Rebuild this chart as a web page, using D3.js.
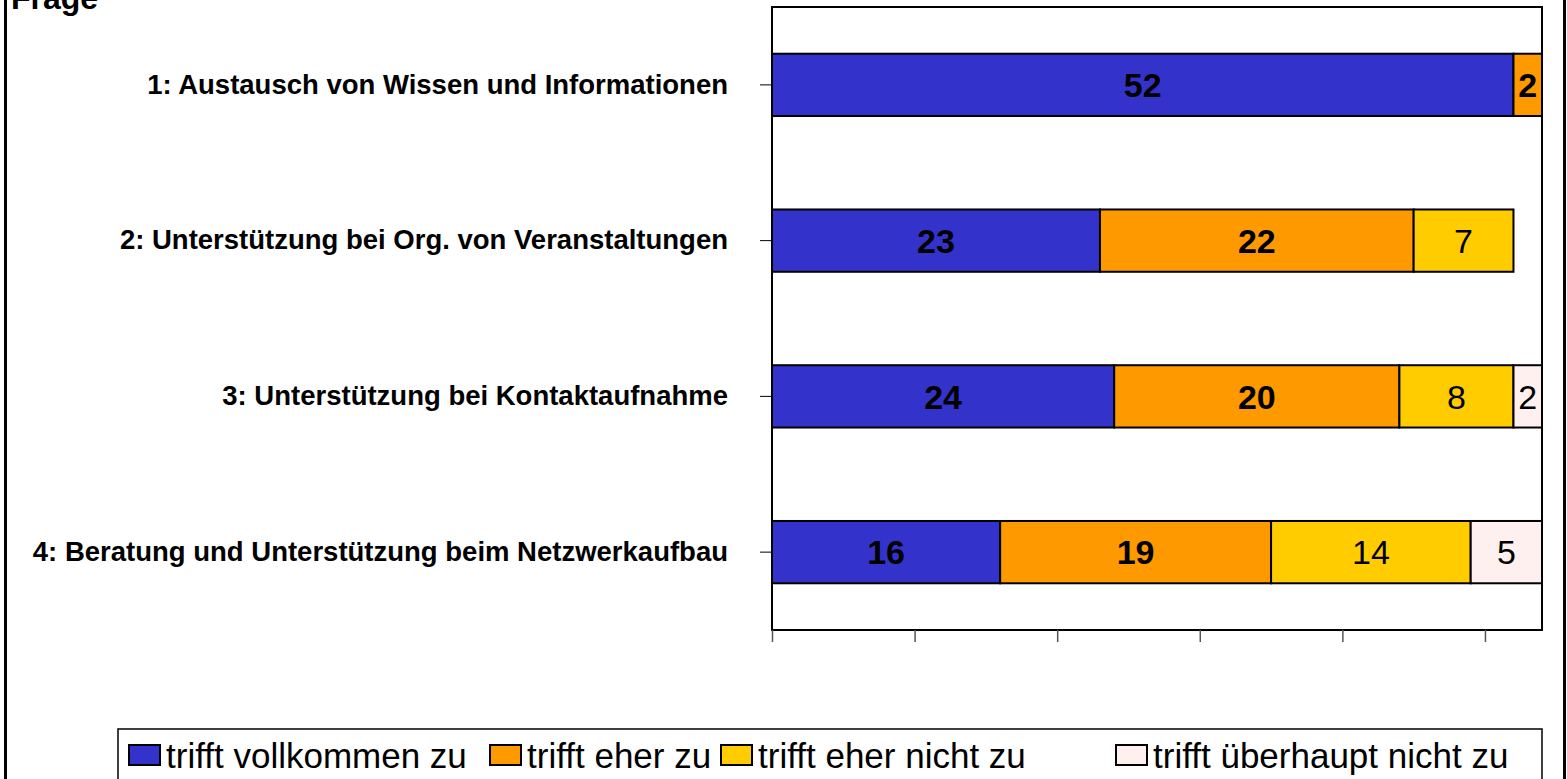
<!DOCTYPE html>
<html>
<head>
<meta charset="utf-8">
<script src="https://cdn.jsdelivr.net/npm/d3@7"></script>
<style>
  body { margin: 0; background: #fff; }
  svg { display: block; font-family: "Liberation Sans", Arial, sans-serif; }
</style>
</head>
<body>
<div id="chart"></div>
<script>
// survey answers per question, stacked
const questions = [
  "1: Austausch von Wissen und Informationen",
  "2: Unterstützung bei Org. von Veranstaltungen",
  "3: Unterstützung bei Kontaktaufnahme",
  "4: Beratung und Unterstützung beim Netzwerkaufbau"
];
const seriesNames = ["trifft vollkommen zu", "trifft eher zu", "trifft eher nicht zu", "trifft überhaupt nicht zu"];
const vollkommen = [52, 23, 24, 16];
const eher = [2, 22, 20, 19];
const eherNicht = [0, 7, 8, 14];
const ueberhauptNicht = [0, 0, 2, 5];
const xTicks = [0, 10, 20, 30, 40, 50];
const colours = ["#3333CC", "#FF9900", "#FFCC00", "#FFF0F0"];

const W = 1567, H = 779;
const plot = { left: 772, right: 1542, top: 7, bottom: 630 };

const svg = d3.select("#chart").append("svg").attr("width", W).attr("height", H);

// outer frame (top is cut off in the picture)
svg.append("rect").attr("x", 5.5).attr("y", -20).attr("width", 1559).attr("height", 830)
  .attr("fill", "none").attr("stroke", "#000").attr("stroke-width", 3);

svg.append("text").attr("x", 11).attr("y", 9).attr("font-size", 32).attr("font-weight", "bold").text("Frage");

const rows = questions.map((q, i) => ({ q, vals: [vollkommen[i], eher[i], eherNicht[i], ueberhauptNicht[i]] }));
const stacked = d3.stack().keys([0, 1, 2, 3]).value((d, k) => d.vals[k])(rows);

const x = d3.scaleLinear().domain([0, 54]).range([plot.left, plot.right]);
const y = d3.scaleBand().domain(questions).range([plot.top, plot.bottom]).paddingInner(0.6).paddingOuter(0.3);

// plot frame
svg.append("rect").attr("x", plot.left).attr("y", plot.top)
  .attr("width", plot.right - plot.left).attr("height", plot.bottom - plot.top)
  .attr("fill", "#fff").attr("stroke", "#000").attr("stroke-width", 2);

// bottom axis: ticks only
const xAxis = svg.append("g").attr("transform", `translate(0,${plot.bottom})`)
  .call(d3.axisBottom(x).tickValues(xTicks).tickSize(12).tickFormat(""));
xAxis.select(".domain").remove();
xAxis.selectAll("line").attr("stroke", "#555").attr("stroke-width", 1.5);

// left axis with the question labels
const yAxis = svg.append("g").attr("transform", `translate(${plot.left},0)`)
  .call(d3.axisLeft(y).tickSize(12).tickPadding(32));
yAxis.select(".domain").remove();
yAxis.selectAll("line").attr("stroke", "#000").attr("stroke-width", 1);
yAxis.selectAll("text").attr("font-size", 27.5).attr("font-weight", "bold").attr("fill", "#000")
  .attr("font-family", "\"Liberation Sans\", Arial, sans-serif");

const layer = svg.append("g").selectAll("g").data(stacked).join("g")
  .attr("fill", (d, i) => colours[i]);

layer.selectAll("rect").data(d => d.filter(s => s[1] > s[0])).join("rect")
  .attr("x", d => x(d[0]))
  .attr("y", d => y(d.data.q))
  .attr("width", d => x(d[1]) - x(d[0]))
  .attr("height", y.bandwidth())
  .attr("stroke", "#000").attr("stroke-width", 2);

layer.each(function (s, i) {
  d3.select(this).selectAll("text").data(s.filter(d => d[1] > d[0])).join("text")
    .attr("x", d => (x(d[0]) + x(d[1])) / 2)
    .attr("y", d => y(d.data.q) + y.bandwidth() / 2)
    .attr("dy", "0.36em")
    .attr("text-anchor", "middle")
    .attr("fill", "#000")
    .attr("font-size", 34)
    .attr("font-weight", i < 2 ? "bold" : "normal")
    .text(d => d[1] - d[0]);
});

// legend
const legend = svg.append("g");
legend.append("rect").attr("x", 118).attr("y", 729).attr("width", 1424).attr("height", 70)
  .attr("fill", "#fff").attr("stroke", "#000").attr("stroke-width", 1.5);
const legendX = [129, 490, 721, 1116];
seriesNames.forEach((name, i) => {
  legend.append("rect").attr("x", legendX[i]).attr("y", 745).attr("width", 31).attr("height", 20)
    .attr("fill", colours[i]).attr("stroke", "#000").attr("stroke-width", 2);
  legend.append("text").attr("x", legendX[i] + 37).attr("y", 768).attr("font-size", 35).text(name);
});
</script>
</body>
</html>
